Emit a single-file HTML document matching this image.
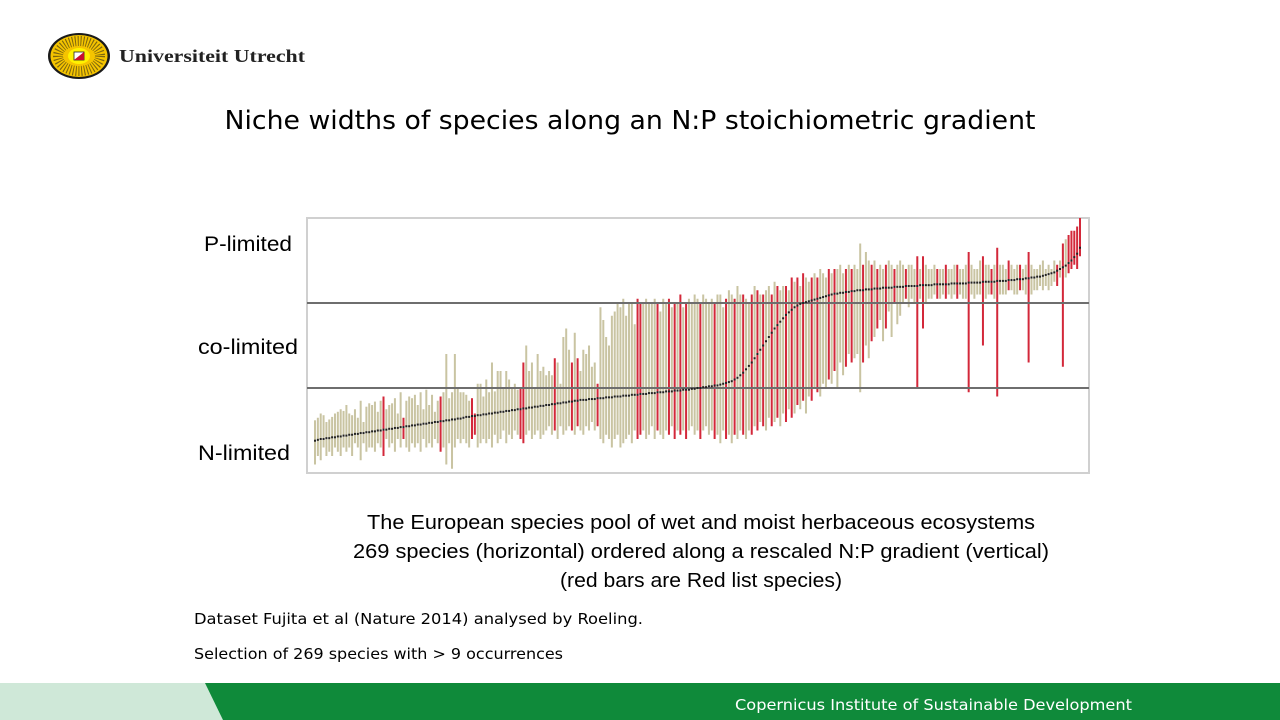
<!DOCTYPE html>
<html><head><meta charset="utf-8"><style>
html,body{margin:0;padding:0;background:#fff;width:1280px;height:720px;overflow:hidden}
svg{display:block}
</style></head><body>
<svg id="s" width="1280" height="720" viewBox="0 0 1280 720" xmlns="http://www.w3.org/2000/svg">
<g>
 <ellipse cx="79" cy="56" rx="31" ry="23" fill="#1a1a1a"/>
 <ellipse cx="79" cy="56" rx="28.5" ry="21" fill="#f5c400"/>
 <ellipse cx="79" cy="56" rx="21" ry="15" fill="none" stroke="#1a1a1a" stroke-width="10" stroke-dasharray="1 1.8" opacity="0.55"/>
 <ellipse cx="79" cy="56" rx="11" ry="8" fill="#fff200"/>
 <rect x="74" y="52" width="10" height="8" fill="#fff" stroke="#222" stroke-width="0.8"/>
 <polygon points="74,60 84,52 84,60" fill="#c8102e"/>
 <text x="119" y="62" font-family="Liberation Serif, serif" font-weight="bold" font-size="18" fill="#222" textLength="186" lengthAdjust="spacingAndGlyphs">Universiteit Utrecht</text>
</g>
<text x="630" y="129" text-anchor="middle" font-family="DejaVu Sans, sans-serif" font-size="26" fill="#000" textLength="811" lengthAdjust="spacingAndGlyphs">Niche widths of species along an N:P stoichiometric gradient</text>
<rect x="307" y="218" width="782" height="255" fill="#fff" stroke="#d0d0d0" stroke-width="2"/>
<g id="bars"></g>
<g id="refs"></g>
<g id="meds"></g>
<text x="204" y="251" font-family="Liberation Sans, sans-serif" font-size="21" textLength="88" lengthAdjust="spacingAndGlyphs">P-limited</text>
<text x="198" y="354" font-family="Liberation Sans, sans-serif" font-size="21" textLength="100" lengthAdjust="spacingAndGlyphs">co-limited</text>
<text x="198" y="460" font-family="Liberation Sans, sans-serif" font-size="21" textLength="92" lengthAdjust="spacingAndGlyphs">N-limited</text>
<g font-family="Liberation Sans, sans-serif" font-size="20" text-anchor="middle" fill="#000">
 <text x="701" y="529" textLength="668" lengthAdjust="spacingAndGlyphs">The European species pool of wet and moist herbaceous ecosystems</text>
 <text x="701" y="558" textLength="696" lengthAdjust="spacingAndGlyphs">269 species (horizontal) ordered along a rescaled N:P gradient (vertical)</text>
 <text x="701" y="587" textLength="282" lengthAdjust="spacingAndGlyphs">(red bars are Red list species)</text>
</g>
<text x="194" y="624" font-family="DejaVu Sans, sans-serif" font-size="15.5" textLength="449" lengthAdjust="spacingAndGlyphs">Dataset Fujita et al (Nature 2014) analysed by Roeling.</text>
<text x="194" y="659" font-family="DejaVu Sans, sans-serif" font-size="15.5" textLength="369" lengthAdjust="spacingAndGlyphs">Selection of 269 species with &gt; 9 occurrences</text>
<g>
 <rect x="0" y="683" width="1280" height="37" fill="#cfe8d8"/>
 <polygon points="205,683 1280,683 1280,720 223,720" fill="#0f8a3a"/>
 <text x="735" y="710" font-family="DejaVu Sans, sans-serif" font-size="15.5" fill="#fff" textLength="397" lengthAdjust="spacingAndGlyphs">Copernicus Institute of Sustainable Development</text>
</g>
</svg>
<script>
const medians=[.38,.39,.40,.40,.41,.41,.42,.42,.43,.43,.44,.44,.45,.45,.46,.46,.47,.47,.48,.48,.49,.49,.50,.50,.51,.51,.52,.52,.53,.53,.54,.54,.55,.55,.56,.56,.57,.57,.58,.58,.59,.59,.60,.60,.61,.61,.62,.62,.63,.63,.64,.64,.65,.66,.66,.67,.67,.68,.68,.69,.69,.70,.70,.71,.71,.72,.72,.73,.73,.74,.74,.75,.75,.76,.76,.77,.77,.78,.78,.79,.79,.80,.80,.81,.81,.82,.82,.83,.83,.84,.84,.85,.85,.86,.86,.86,.87,.87,.87,.88,.88,.88,.89,.89,.89,.90,.90,.90,.91,.91,.91,.92,.92,.92,.93,.93,.93,.94,.94,.94,.95,.95,.95,.96,.96,.96,.97,.97,.97,.98,.98,.98,.99,.99,1.0,1.0,1.01,1.01,1.02,1.02,1.03,1.03,1.04,1.05,1.06,1.07,1.08,1.10,1.12,1.15,1.18,1.22,1.26,1.30,1.35,1.40,1.45,1.50,1.55,1.60,1.65,1.70,1.74,1.78,1.82,1.86,1.89,1.92,1.95,1.97,1.99,2.0,2.01,2.02,2.03,2.04,2.05,2.06,2.07,2.08,2.09,2.10,2.11,2.11,2.12,2.12,2.13,2.13,2.14,2.14,2.15,2.15,2.15,2.16,2.16,2.16,2.17,2.17,2.17,2.18,2.18,2.18,2.18,2.19,2.19,2.19,2.19,2.20,2.20,2.20,2.20,2.20,2.21,2.21,2.21,2.21,2.21,2.22,2.22,2.22,2.22,2.22,2.22,2.23,2.23,2.23,2.23,2.23,2.23,2.24,2.24,2.24,2.24,2.24,2.25,2.25,2.25,2.25,2.25,2.26,2.26,2.26,2.26,2.27,2.27,2.27,2.28,2.28,2.28,2.29,2.29,2.30,2.30,2.31,2.31,2.32,2.33,2.34,2.35,2.36,2.38,2.40,2.42,2.44,2.47,2.50,2.54,2.58,2.65];
const highs=[.62,.65,.70,.68,.60,.63,.66,.70,.72,.75,.73,.80,.70,.68,.75,.65,.85,.60,.78,.82,.80,.84,.72,.85,.90,.75,.80,.82,.88,.70,.95,.65,.85,.90,.88,.92,.80,.95,.75,.98,.80,.92,.72,.85,.90,.95,1.4,.88,.95,1.4,1.0,.95,.95,.92,.85,.88,.70,1.05,1.05,.90,1.1,.95,1.3,.96,1.2,1.2,1.0,1.2,1.1,1.0,1.05,.98,1.0,1.3,1.5,1.2,1.3,1.0,1.4,1.2,1.25,1.15,1.2,1.15,1.35,1.3,1.05,1.6,1.7,1.45,1.3,1.65,1.35,1.2,1.45,1.4,1.5,1.25,1.3,1.05,1.95,1.8,1.6,1.5,1.85,1.9,2.0,1.95,2.05,1.85,2.0,2.0,1.75,2.05,2.0,2.0,2.05,2.0,2.0,2.05,2.0,1.9,2.05,2.0,2.05,1.95,2.0,2.0,2.1,1.95,2.0,2.05,2.0,2.1,2.05,2.0,2.1,2.05,2.0,2.05,2.0,2.1,2.1,1.95,2.05,2.15,2.1,2.05,2.2,2.1,2.1,2.05,2.0,2.1,2.2,2.15,2.1,2.1,2.15,2.2,2.1,2.25,2.2,2.15,2.2,2.2,2.15,2.3,2.25,2.3,2.2,2.35,2.3,2.25,2.3,2.35,2.3,2.4,2.35,2.3,2.4,2.35,2.4,2.4,2.45,2.35,2.4,2.45,2.4,2.45,2.4,2.7,2.45,2.6,2.5,2.45,2.5,2.4,2.45,2.4,2.45,2.5,2.45,2.4,2.45,2.5,2.45,2.4,2.45,2.45,2.4,2.55,2.4,2.55,2.45,2.4,2.4,2.45,2.4,2.4,2.4,2.45,2.4,2.4,2.45,2.45,2.4,2.4,2.45,2.6,2.45,2.4,2.4,2.5,2.55,2.45,2.45,2.4,2.45,2.65,2.45,2.45,2.4,2.5,2.45,2.4,2.45,2.45,2.4,2.45,2.6,2.45,2.4,2.4,2.45,2.5,2.4,2.45,2.4,2.5,2.45,2.5,2.7,2.75,2.8,2.85,2.85,2.9,3.0];
const lows=[.1,.2,.15,.3,.2,.25,.2,.3,.25,.2,.3,.25,.3,.2,.35,.3,.15,.35,.25,.3,.3,.25,.35,.3,.2,.4,.3,.35,.25,.4,.3,.4,.3,.25,.35,.3,.35,.25,.4,.3,.35,.3,.4,.35,.25,.3,.1,.35,.05,.3,.4,.35,.4,.35,.3,.4,.45,.3,.35,.4,.35,.4,.3,.45,.35,.4,.5,.35,.45,.4,.5,.45,.4,.35,.45,.5,.4,.45,.5,.4,.45,.5,.55,.45,.5,.4,.55,.45,.5,.55,.5,.45,.55,.5,.45,.55,.5,.6,.5,.55,.4,.35,.45,.4,.3,.4,.45,.3,.35,.4,.45,.35,.5,.4,.45,.5,.4,.45,.55,.4,.5,.45,.4,.5,.45,.55,.4,.5,.45,.5,.4,.5,.55,.45,.5,.4,.5,.55,.45,.5,.4,.45,.35,.5,.4,.45,.35,.45,.4,.5,.45,.4,.5,.45,.55,.5,.6,.55,.5,.65,.55,.6,.65,.55,.7,.6,.75,.65,.7,.8,.75,.85,.7,.9,.85,1.0,.95,.9,1.05,1.0,1.1,1.05,1.2,1.0,1.3,1.15,1.25,1.4,1.3,1.35,1.4,.95,1.3,1.5,1.35,1.55,1.6,1.7,1.8,1.55,1.7,1.9,1.6,2.0,1.75,1.85,2.0,2.05,1.95,2.05,2.0,1.0,2.05,1.7,2.0,2.05,2.05,2.1,2.05,2.05,2.1,2.05,2.1,2.05,2.1,2.05,2.1,2.05,2.05,.95,2.1,2.05,2.1,2.1,1.5,2.05,2.1,2.1,2.05,.9,2.1,2.1,2.1,2.15,2.15,2.1,2.1,2.15,2.15,2.1,1.3,2.1,2.15,2.15,2.2,2.15,2.2,2.15,2.2,2.25,2.2,2.3,1.25,2.3,2.35,2.4,2.45,2.4,2.55];
const redList=[24,31,44,55,56,72,73,84,90,92,99,113,114,120,124,126,128,130,135,140,144,147,150,153,155,157,160,162,165,167,169,171,174,176,180,182,186,188,192,195,197,200,203,207,211,213,218,221,225,229,234,237,239,243,247,250,260,262,264,265,266,267,268];
const refLevels=[1,2];
const NS="http://www.w3.org/2000/svg";
const X0=315,X1=1080,Y0=473,YT=218,VMAX=3;
function xs(i){return X0+i*(X1-X0)/(medians.length-1);}
function ys(v){return Y0-v/VMAX*(Y0-YT);}
const bars=document.getElementById('bars'),meds=document.getElementById('meds'),refs=document.getElementById('refs');
for(let i=0;i<medians.length;i++){
  const red=redList.includes(i);
  const r=document.createElementNS(NS,'rect');
  r.setAttribute('x',xs(i)-1);
  r.setAttribute('width',2);
  r.setAttribute('y',ys(highs[i]));
  r.setAttribute('height',Math.max(1,ys(lows[i])-ys(highs[i])));
  r.setAttribute('fill',red?'#d3283a':'#c9c4a2');
  
  
  bars.appendChild(r);
  const d=document.createElementNS(NS,'rect');
  d.setAttribute('x',xs(i)-1);
  d.setAttribute('y',ys(medians[i])-1);
  d.setAttribute('width',2);d.setAttribute('height',2);
  d.setAttribute('fill','#222');
  
  
  meds.appendChild(d);
}
refLevels.forEach(v=>{
  const l=document.createElementNS(NS,'line');
  l.setAttribute('x1',307);l.setAttribute('x2',1089);
  l.setAttribute('y1',ys(v));l.setAttribute('y2',ys(v));
  l.setAttribute('stroke','#6e6e6e');l.setAttribute('stroke-width',2);
  
  
  refs.appendChild(l);
});
</script>
</body></html>
